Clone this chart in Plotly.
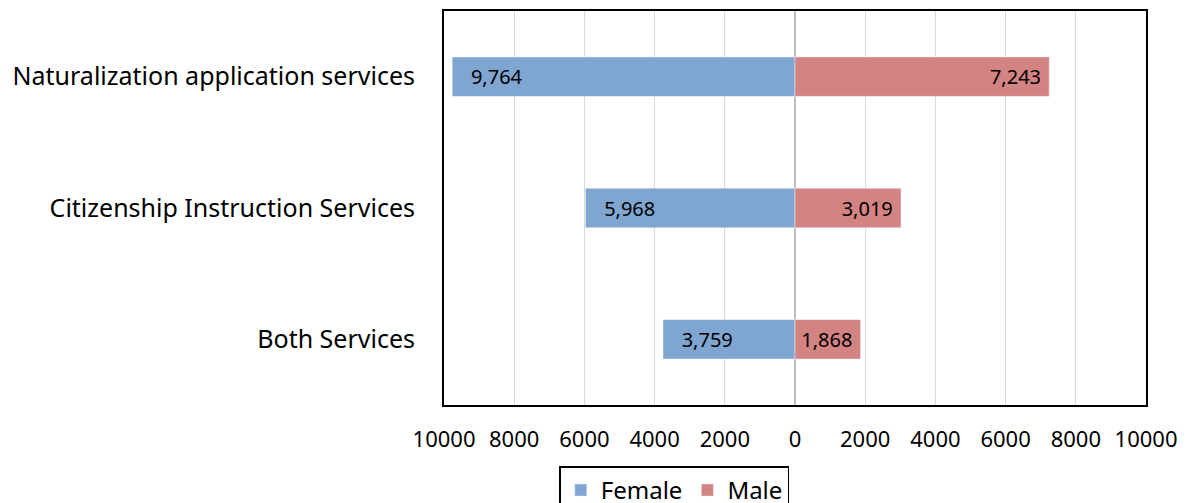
import plotly.graph_objects as go

categories = ["Naturalization application services", "Citizenship Instruction Services", "Both Services"]
female = [9764, 5968, 3759]
male = [7243, 3019, 1868]
tick_vals = [-10000, -8000, -6000, -4000, -2000, 0, 2000, 4000, 6000, 8000, 10000]
tick_text = ["10000", "8000", "6000", "4000", "2000", "0", "2000", "4000", "6000", "8000", "10000"]

font_family = "Noto Sans"
NB = "\u00a0"

fig = go.Figure()
fig.add_trace(go.Bar(
    y=categories, x=[-v for v in female], orientation="h", name="Female",
    marker=dict(color="#7fa6d1"),
    text=[NB * 3 + f"{v:,}" for v in female], textposition="inside", insidetextanchor="end",
    textfont=dict(color="black", size=20, family=font_family),
    width=0.3,
))
fig.add_trace(go.Bar(
    y=categories, x=male, orientation="h", name="Male",
    marker=dict(color="#d48383"),
    text=[f"{v:,}" + NB for v in male], textposition="inside", insidetextanchor="end",
    textfont=dict(color="black", size=20, family=font_family),
    width=0.3,
))

# page body has an 8px default margin; compensate so the plot lands where the reference has it
fig.update_layout(
    width=1187, height=520,
    barmode="relative",
    plot_bgcolor="white", paper_bgcolor="white",
    font=dict(family=font_family, size=22, color="black"),
    margin=dict(l=436, r=49, t=1, b=123),
    showlegend=True,
    legend=dict(orientation="h", x=0.328, xanchor="center", y=-0.156, yanchor="top",
                bordercolor="black", borderwidth=1.5, font=dict(size=24),
                itemwidth=30, tracegroupgap=0),
    xaxis=dict(range=[-10000, 10000], tickvals=tick_vals, ticktext=tick_text,
               showgrid=True, gridcolor="#d9d9d9", gridwidth=1,
               zeroline=True, zerolinecolor="#bfbfbf", zerolinewidth=2,
               showline=True, linecolor="black", linewidth=2, mirror=True,
               ticks="", tickfont=dict(size=22), ticklabelstandoff=14),
    yaxis=dict(categoryorder="array", categoryarray=categories[::-1],
               showline=True, linecolor="black", linewidth=2, mirror=True,
               ticks="", tickfont=dict(size=25), ticklabelstandoff=22),
)

fig.write_html("out.html")
